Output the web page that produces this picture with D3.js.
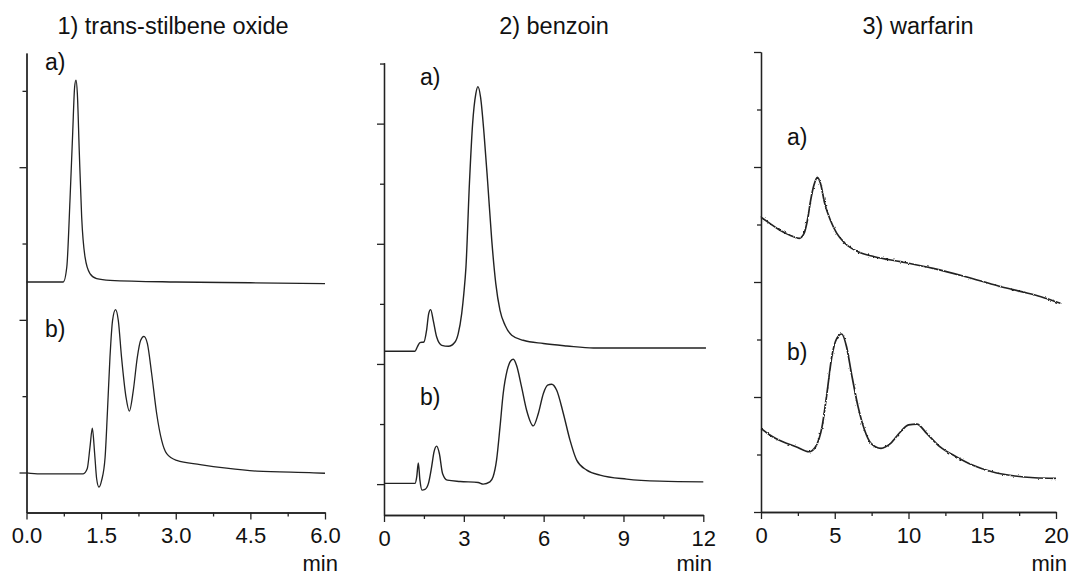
<!DOCTYPE html>
<html>
<head>
<meta charset="utf-8">
<script src="https://cdn.jsdelivr.net/npm/d3@7"></script>
<style>
  body { margin: 0; background: #fff; }
  svg { display: block; font-family: "Liberation Sans", Arial, sans-serif; }
  .axis path, .axis line { stroke: #222; stroke-width: 1.3; }
  .axis text { font-family: "Liberation Sans", Arial, sans-serif; font-size: 22px; fill: #111; }
  .title { font-size: 23.5px; fill: #111; }
  .tag { font-size: 23px; fill: #111; }
  .unit { font-size: 22px; fill: #111; }
  .trace { fill: none; stroke: #222; stroke-linejoin: round; }
</style>
</head>
<body>
<svg id="chart" width="1070" height="577"></svg>
<script>
// Panel titles and trace labels
const titles = ["1) trans-stilbene oxide", "2) benzoin", "3) warfarin"];
const traceLabels = ["a)", "b)"];
const unitLabel = "min";

// x ticks (min)
const xMajor1 = [0, 1.5, 3, 4.5, 6];
const xMinor1 = [0.75, 2.25, 3.75, 5.25];
const xMajor2 = [0, 3, 6, 9, 12];
const xMinor2 = [1.5, 4.5, 7.5, 10.5];
const xMajor3 = [0, 5, 10, 15, 20];
const xMinor3 = [2.5, 7.5, 12.5, 17.5];

// y ticks (detector signal, no labels)
const yMajor1 = [0, 1, 2];
const yMinor1 = [0.5, 1.5, 2.5];
const yMajor2 = [0, 1, 2, 3];
const yMinor2 = [0.5, 1.5, 2.5, 3.5];
const yMajor3 = [0, 1, 2, 3, 4];
const yMinor3 = [0.5, 1.5, 2.5, 3.5];

// 1) trans-stilbene oxide, [time, signal]
const stilbeneA = [
  [0, 1.248], [0.74, 1.248], [0.81, 1.346], [0.874, 1.784], [0.928, 2.221],
  [0.968, 2.527], [0.995, 2.570], [1.022, 2.483], [1.06, 2.111], [1.109, 1.674],
  [1.176, 1.412], [1.276, 1.303], [1.41, 1.270], [1.68, 1.259], [3.0, 1.248],
  [4.5, 1.243], [6.0, 1.237]
];
const stilbeneB = [
  [0, -0.002], [0.27, -0.009], [1.14, -0.009], [1.22, 0.024], [1.276, 0.166],
  [1.323, 0.290], [1.37, 0.123], [1.41, -0.041], [1.457, -0.096], [1.51, -0.052],
  [1.58, 0.100], [1.625, 0.385], [1.678, 0.756], [1.73, 0.997], [1.79, 1.067],
  [1.845, 0.997], [1.91, 0.756], [2.0, 0.494], [2.067, 0.402], [2.147, 0.538],
  [2.228, 0.756], [2.295, 0.866], [2.36, 0.892], [2.43, 0.844], [2.516, 0.647],
  [2.617, 0.385], [2.717, 0.210], [2.818, 0.123], [3.02, 0.079], [3.49, 0.052],
  [4.02, 0.028], [4.63, 0.009], [5.77, -0.002], [6.0, -0.005]
];

// 2) benzoin
const benzoinA = [
  [0, 1.106], [1.165, 1.106], [1.25, 1.141], [1.35, 1.178], [1.5, 1.183],
  [1.6, 1.280], [1.68, 1.419], [1.754, 1.452], [1.85, 1.363], [1.98, 1.224],
  [2.17, 1.155], [2.42, 1.147], [2.67, 1.183], [2.79, 1.253], [2.92, 1.419],
  [3.0, 1.585], [3.08, 1.806], [3.21, 2.500], [3.33, 2.998], [3.45, 3.248],
  [3.53, 3.308], [3.63, 3.219], [3.76, 2.915], [3.9, 2.500], [4.05, 2.028],
  [4.2, 1.671], [4.36, 1.446], [4.55, 1.322], [4.8, 1.239], [5.23, 1.197],
  [5.99, 1.170], [6.87, 1.150], [7.87, 1.133], [10.0, 1.133], [12.1, 1.133]
];
const benzoinB = [
  [0, 0.006], [1.165, 0.006], [1.23, 0.061], [1.29, 0.177], [1.35, 0.033],
  [1.43, -0.050], [1.54, -0.044], [1.67, 0.006], [1.79, 0.144], [1.88, 0.268],
  [1.98, 0.316], [2.08, 0.255], [2.2, 0.089], [2.38, 0.033], [2.86, 0.022],
  [3.54, 0.014], [3.73, 0.000], [3.98, 0.019], [4.1, 0.061], [4.23, 0.200],
  [4.36, 0.476], [4.48, 0.754], [4.63, 0.948], [4.76, 1.025], [4.86, 1.039],
  [4.98, 0.989], [5.17, 0.809], [5.36, 0.615], [5.61, 0.485], [5.8, 0.588],
  [5.99, 0.754], [6.15, 0.823], [6.3, 0.831], [6.49, 0.781], [6.74, 0.588],
  [6.99, 0.366], [7.24, 0.200], [7.62, 0.116], [8.12, 0.075], [9.12, 0.042],
  [10.37, 0.025], [12.0, 0.019]
];

// 3) warfarin
const warfarinA = [
  [0, 2.563], [0.6, 2.510], [1.26, 2.452], [1.93, 2.409], [2.59, 2.380],
  [2.92, 2.423], [3.15, 2.539], [3.37, 2.713], [3.59, 2.843], [3.83, 2.910],
  [4.03, 2.858], [4.32, 2.684], [4.7, 2.539], [5.14, 2.423], [5.69, 2.337],
  [6.58, 2.263], [7.69, 2.220], [9.46, 2.177], [11.67, 2.119], [13.89, 2.046],
  [16.1, 1.965], [17.65, 1.916], [18.98, 1.872], [20.3, 1.815]
];
const warfarinB = [
  [0, 0.728], [0.6, 0.670], [1.48, 0.611], [2.37, 0.568], [3.26, 0.524],
  [3.7, 0.568], [4.14, 0.742], [4.47, 1.032], [4.8, 1.350], [5.14, 1.510],
  [5.47, 1.548], [5.8, 1.437], [6.13, 1.206], [6.58, 0.916], [7.02, 0.713],
  [7.46, 0.597], [8.13, 0.554], [8.79, 0.597], [9.46, 0.698], [10.01, 0.757],
  [10.57, 0.765], [11.23, 0.684], [12.12, 0.568], [13.23, 0.481], [14.33, 0.409],
  [15.66, 0.350], [17.21, 0.313], [18.54, 0.298], [19.98, 0.293]
];

const svg = d3.select("#chart");

// detector noise look for the warfarin traces (drawing effect only)
const noise = svg.append("defs").append("filter")
    .attr("id", "noise")
    .attr("x", "-5%").attr("y", "-20%")
    .attr("width", "110%").attr("height", "140%");
noise.append("feTurbulence")
    .attr("type", "fractalNoise")
    .attr("baseFrequency", 0.4)
    .attr("numOctaves", 1)
    .attr("seed", 4)
    .attr("result", "turb");
noise.append("feDisplacementMap")
    .attr("in", "SourceGraphic")
    .attr("in2", "turb")
    .attr("scale", 2.6)
    .attr("xChannelSelector", "R")
    .attr("yChannelSelector", "G");

// layout of the three panels
const panels = [
  {
    title: titles[0], titleX: 173,
    left: 26.5, right: 325, top: 53, bottom: 512.5,
    xDomain: [0, 6], yDomain: [-0.262, 2.748],
    xMajor: xMajor1, xMinor: xMinor1, yMajor: yMajor1, yMinor: yMinor1,
    xFormat: d3.format(".1f"),
    traces: [stilbeneA, stilbeneB], tagPos: [[45, 70], [45, 337]],
    color: "#333", width: 1.3, noisy: false, unitX: 338
  },
  {
    title: titles[1], titleX: 554,
    left: 384, right: 703.3, top: 62.7, bottom: 515,
    xDomain: [0, 12], yDomain: [-0.257, 3.507],
    xMajor: xMajor2, xMinor: xMinor2, yMajor: yMajor2, yMinor: yMinor2,
    xFormat: d3.format("d"),
    traces: [benzoinA, benzoinB], tagPos: [[420, 85], [420, 405]],
    color: "#222", width: 1.4, noisy: false, unitX: 712
  },
  {
    title: titles[2], titleX: 918,
    left: 761, right: 1056, top: 52, bottom: 512,
    xDomain: [0, 20], yDomain: [0, 4],
    xMajor: xMajor3, xMinor: xMinor3, yMajor: yMajor3, yMinor: yMinor3,
    xFormat: d3.format("d"),
    traces: [warfarinA, warfarinB], tagPos: [[787, 145], [787, 360]],
    color: "#111", width: 1.7, noisy: true, unitX: 1067
  }
];

panels.forEach(p => {
  const x = d3.scaleLinear().domain(p.xDomain).range([p.left, p.right]);
  const y = d3.scaleLinear().domain(p.yDomain).range([p.bottom, p.top]);
  const g = svg.append("g");

  // x axis: minor then major ticks
  g.append("g").attr("class", "axis")
    .attr("transform", `translate(0,${p.bottom})`)
    .call(d3.axisBottom(x).tickValues(p.xMinor).tickSize(4).tickSizeOuter(0).tickFormat(""));
  g.append("g").attr("class", "axis")
    .attr("transform", `translate(0,${p.bottom})`)
    .call(d3.axisBottom(x).tickValues(p.xMajor).tickSize(7).tickSizeOuter(0)
      .tickPadding(8).tickFormat(p.xFormat));

  // y axis, ticks only
  g.append("g").attr("class", "axis")
    .attr("transform", `translate(${p.left},0)`)
    .call(d3.axisLeft(y).tickValues(p.yMinor).tickSize(4).tickSizeOuter(0).tickFormat(""));
  g.append("g").attr("class", "axis")
    .attr("transform", `translate(${p.left},0)`)
    .call(d3.axisLeft(y).tickValues(p.yMajor).tickSize(7).tickSizeOuter(0).tickFormat(""));

  // chromatograms
  const line = d3.line()
    .x(d => x(d[0]))
    .y(d => y(d[1]))
    .curve(d3.curveMonotoneX);

  g.selectAll(".trace")
    .data(p.traces)
    .enter()
    .append("path")
    .attr("class", "trace")
    .attr("d", line)
    .attr("stroke", p.color)
    .attr("stroke-width", p.width)
    .attr("filter", p.noisy ? "url(#noise)" : null);

  g.selectAll(".tag")
    .data(traceLabels)
    .enter()
    .append("text")
    .attr("class", "tag")
    .attr("x", (d, i) => p.tagPos[i][0])
    .attr("y", (d, i) => p.tagPos[i][1])
    .text(d => d);

  g.append("text")
    .attr("class", "title")
    .attr("x", p.titleX)
    .attr("y", 34)
    .attr("text-anchor", "middle")
    .text(p.title);

  g.append("text")
    .attr("class", "unit")
    .attr("x", p.unitX)
    .attr("y", 571)
    .attr("text-anchor", "end")
    .text(unitLabel);
});
</script>
</body>
</html>
